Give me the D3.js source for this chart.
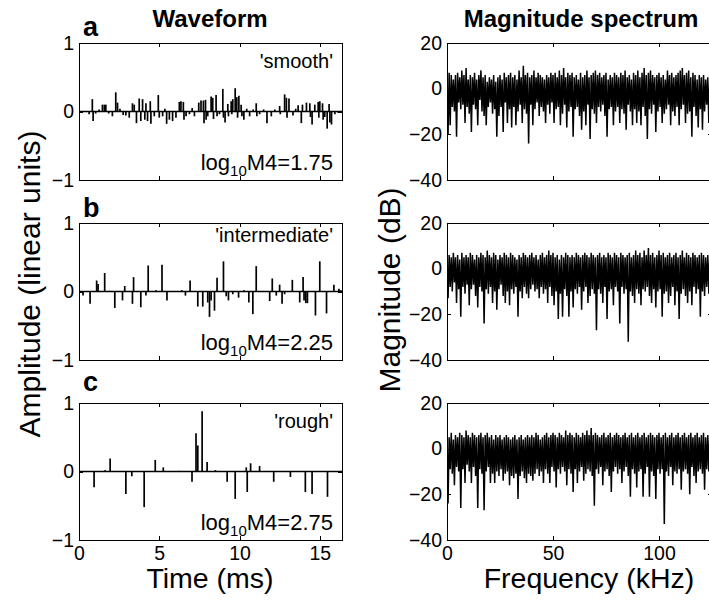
<!DOCTYPE html>
<html>
<head>
<meta charset="utf-8">
<script src="https://cdn.jsdelivr.net/npm/d3@7"></script>
<style>
  body { margin: 0; background: #fff; }
  svg { display: block; font-family: "Liberation Sans", Arial, Helvetica, sans-serif; }
</style>
</head>
<body>
<div id="chart"></div>
<script>
// ---- data ----
const duration = 16.384;   // ms
const nyquist = 125;       // kHz
const freqStep = 0.5;      // kHz between spectrum samples

const timeTicks = [0, 5, 10, 15];
const ampTicks = [-1, 0, 1];
const freqTicks = [0, 50, 100];
const dbTicks = [-40, -20, 0, 20];

const panelLetters = ['a', 'b', 'c'];
const roughnessNames = ["'smooth'", "'intermediate'", "'rough'"];
const m4Values = ['1.75', '2.25', '2.75'];

// waveform impulses: [time ms, amplitude]
const waveSmooth = [
  [0.63,-0.04],[0.83,0.18],[0.88,-0.14],[1.04,-0.03],[1.25,0.03],[1.46,0.10],[1.58,0.10],[1.67,0.10],
  [1.85,-0.03],[2.08,-0.07],[2.29,0.28],[2.40,0.13],[2.55,0.04],[2.75,-0.05],[2.92,-0.06],[3.13,-0.09],
  [3.33,0.12],[3.44,0.10],[3.58,-0.17],[3.75,0.19],[3.85,-0.14],[3.96,0.18],[4.10,-0.12],[4.17,0.12],
  [4.27,-0.14],[4.44,0.15],[4.48,-0.18],[4.69,-0.07],[4.94,0.24],[5.00,-0.09],[5.21,-0.07],[5.35,0.04],
  [5.46,-0.18],[5.63,-0.12],[5.83,-0.14],[6.04,-0.09],[6.25,0.14],[6.35,0.15],[6.50,0.14],[6.54,-0.12],
  [6.67,-0.07],[6.88,-0.04],[7.05,0.05],[7.19,-0.07],[7.46,0.13],[7.60,0.16],[7.75,0.16],[7.79,-0.17],
  [7.88,0.17],[7.92,-0.12],[8.02,-0.07],[8.23,0.22],[8.33,0.20],[8.38,-0.11],[8.54,0.24],[8.60,-0.07],
  [8.75,-0.04],[8.96,0.33],[9.00,-0.09],[9.10,-0.16],[9.27,0.11],[9.31,-0.07],[9.48,0.15],[9.52,-0.04],
  [9.58,0.18],[9.73,0.34],[9.83,0.21],[9.88,-0.09],[9.96,0.23],[10.10,0.10],[10.15,-0.07],[10.27,-0.12],
  [10.45,0.04],[10.63,-0.07],[10.85,0.03],[11.04,0.12],[11.08,-0.07],[11.25,-0.04],[11.50,0.03],[11.71,-0.17],
  [11.98,-0.07],[12.20,0.03],[12.50,0.08],[12.54,-0.04],[12.81,0.25],[12.92,0.20],[12.96,-0.09],[13.08,0.19],
  [13.33,-0.06],[13.50,0.04],[13.65,0.09],[13.85,-0.17],[13.92,0.10],[14.17,0.13],[14.38,0.12],[14.42,-0.08],
  [14.52,-0.19],[14.69,0.10],[14.90,0.14],[14.94,-0.09],[15.00,0.15],[15.17,0.12],[15.21,-0.12],[15.31,-0.08],
  [15.46,-0.25],[15.58,0.11],[15.63,-0.16],[15.73,-0.19],[15.94,-0.04],[16.15,-0.02]
];
const waveIntermediate = [
  [0.25,-0.06],[0.69,-0.18],[1.10,0.16],[1.19,0.11],[1.60,0.27],[1.92,0.01],[2.23,-0.24],[2.71,-0.13],
  [2.85,0.08],[3.33,-0.18],[3.40,0.21],[3.85,-0.23],[4.17,-0.06],[4.31,0.38],[4.79,0.02],[5.17,0.39],
  [5.48,-0.13],[6.40,0.02],[6.63,-0.06],[6.92,0.16],[7.40,-0.22],[7.71,-0.22],[8.02,-0.16],[8.13,-0.37],
  [8.23,-0.13],[8.44,-0.28],[8.60,0.20],[9.00,0.44],[9.17,-0.07],[9.31,-0.13],[9.58,-0.04],[9.94,-0.09],
  [10.27,0.02],[10.58,-0.16],[10.83,-0.33],[11.04,0.37],[11.88,-0.14],[12.04,0.19],[12.29,-0.06],[12.50,0.10],
  [12.65,-0.18],[12.81,-0.04],[13.29,0.17],[13.75,-0.16],[13.96,0.21],[14.02,-0.13],[14.13,-0.17],[14.23,-0.17],
  [14.73,-0.35],[15.00,0.44],[15.42,-0.32],[15.88,0.10],[16.19,0.04],[16.30,0.02]
];
const waveRough = [
  [0.94,-0.23],[1.63,0.02],[1.94,0.19],[2.92,-0.33],[3.29,-0.07],[4.06,-0.52],[4.75,0.17],[5.25,0.06],
  [6.25,0.01],[7.04,-0.15],[7.29,0.56],[7.40,0.38],[7.67,0.88],[7.98,0.14],[8.50,0.02],[9.23,-0.15],
  [9.73,-0.40],[10.42,0.06],[10.48,-0.30],[10.69,0.12],[11.25,0.08],[12.13,-0.15],[13.17,-0.08],[14.10,-0.30],
  [14.52,-0.33],[15.48,-0.37]
];

// magnitude spectra in dB, one value every freqStep kHz from 0
const specSmooth = [
  5,-20,7,-16,6,-8,4,-10,6,-21,7,-6,5,-9,8,-7,6,-15,9,-8,
  4,-11,6,-19,5,-7,7,-9,4,-16,6,-5,8,-10,5,-12,6,-16,3,-8,
  5,-6,4,-11,6,-9,3,-21,5,-12,6,-8,4,-19,7,-6,5,-15,6,-9,
  7,-17,5,-8,6,-16,4,-10,8,-7,5,-15,10,-9,6,-11,7,-24,5,-7,
  6,-16,8,-9,5,-6,7,-12,6,-8,5,-10,4,-15,6,-7,5,-11,7,-6,
  6,-15,7,-9,5,-8,8,-16,6,-11,9,-7,5,-17,7,-10,6,-8,7,-21,
  5,-9,6,-8,4,-12,7,-18,5,-10,6,-16,8,-7,5,-22,6,-9,7,-11,
  8,-15,6,-8,7,-10,5,-7,6,-12,7,-21,4,-9,6,-8,5,-16,7,-10,
  6,-8,5,-15,7,-9,6,-11,8,-18,5,-7,6,-10,4,-16,7,-9,6,-15,
  8,-10,5,-16,7,-8,9,-12,6,-22,7,-9,8,-11,6,-7,5,-19,6,-10,
  7,-8,5,-15,6,-11,4,-9,8,-7,6,-16,7,-10,5,-12,6,-8,7,-16,
  8,-9,9,-7,6,-15,7,-11,8,-10,5,-21,7,-8,6,-12,4,-17,6,-9,
  5,-18,6,-10,4,-7,5,-15,6,-9
];
const specIntermediate = [
  4,-13,6,-8,5,-10,7,-6,5,-15,6,-9,4,-21,7,-8,5,-11,6,-7,
  5,-16,7,-9,6,-7,4,-12,6,-17,5,-8,7,-10,6,-24,5,-9,8,-11,
  6,-8,5,-15,7,-10,6,-18,4,-9,6,-7,5,-12,7,-15,6,-10,5,-16,
  7,-9,6,-11,5,-8,4,-21,6,-10,5,-13,7,-8,6,-11,5,-13,6,-9,
  7,-7,5,-10,6,-9,4,-13,6,-8,7,-11,5,-9,6,-15,8,-8,6,-12,
  7,-16,5,-10,6,-22,4,-11,6,-21,5,-9,7,-12,6,-21,5,-10,6,-17,
  5,-9,7,-11,6,-8,5,-18,6,-10,7,-8,6,-15,5,-12,7,-9,6,-11,
  5,-27,6,-9,7,-11,5,-15,6,-8,5,-22,7,-10,6,-9,5,-16,7,-8,
  6,-10,5,-24,7,-8,6,-11,5,-9,6,-32,7,-10,5,-12,6,-15,8,-9,
  6,-11,7,-16,5,-9,8,-10,6,-8,9,-12,6,-15,7,-9,5,-17,6,-10,
  8,-9,6,-21,7,-11,5,-10,6,-15,7,-12,5,-8,6,-16,7,-10,5,-22,
  6,-11,8,-9,5,-12,7,-15,6,-10,5,-16,7,-8,6,-11,5,-9,6,-21,
  7,-10,6,-12,5,-8,6,-11,7,-9
];
const specRough = [
  6,-24,5,-9,7,-11,4,-16,6,-8,5,-10,7,-26,6,-9,5,-15,8,-7,
  6,-10,5,-15,7,-8,6,-12,5,-26,6,-9,7,-11,5,-27,6,-10,7,-8,
  5,-15,6,-11,4,-15,6,-10,5,-12,6,-9,4,-14,5,-11,6,-10,5,-16,
  4,-12,5,-13,6,-11,4,-22,5,-12,6,-10,4,-13,5,-15,6,-11,5,-12,
  6,-14,5,-11,7,-9,6,-12,4,-10,5,-15,6,-9,7,-11,5,-15,6,-8,
  7,-10,6,-17,5,-9,7,-11,6,-8,5,-10,8,-16,6,-9,7,-11,6,-19,
  5,-9,7,-15,6,-10,5,-8,7,-14,6,-11,8,-9,6,-10,9,-12,6,-25,
  7,-9,6,-11,5,-8,6,-16,7,-10,5,-9,6,-12,7,-19,5,-10,6,-8,
  7,-11,6,-9,5,-15,6,-10,7,-8,5,-12,6,-21,7,-9,5,-11,6,-17,
  7,-10,5,-9,6,-21,7,-11,5,-8,6,-21,7,-10,6,-12,5,-22,6,-9,
  7,-11,5,-9,6,-33,7,-10,5,-12,6,-8,7,-16,5,-10,6,-11,7,-9,
  5,-18,6,-10,7,-9,5,-11,6,-20,7,-8,5,-12,6,-15,7,-10,5,-9,
  6,-11,7,-18,5,-9,6,-10,7,-12
];

const waves = [waveSmooth, waveIntermediate, waveRough];
const spectra = [specSmooth, specIntermediate, specRough];

// ---- layout ----
const W = 709, H = 602;
const leftX = [79, 342], rightX = [447, 712];
const rowTop = [43, 223, 403], rowH = 137;
const nameBaseline = [68, 242, 428];
const letterBaseline = [36, 217, 391];
const tickLen = 4;

const svg = d3.select('#chart').append('svg')
    .attr('width', W)
    .attr('height', H);

const defs = svg.append('defs');

function styleAxis(g, fontSize) {
    g.selectAll('.domain').attr('stroke', '#000').attr('stroke-width', 1).attr('shape-rendering', 'crispEdges');
    g.selectAll('.tick line').attr('stroke', '#000').attr('stroke-width', 1).attr('shape-rendering', 'crispEdges');
    g.selectAll('.tick text').attr('fill', '#000').style('font-size', fontSize + 'px')
        .style('font-family', '"Liberation Sans", Arial, Helvetica, sans-serif');
}

// boxed axes with inward ticks, MATLAB style
function drawFrame(g, x, y, xTicks, yTicks, showXLabels) {
    const [y0, y1] = y.range();   // bottom, top
    const [x0, x1] = x.range();

    g.append('g').attr('transform', `translate(0,${y0})`)
        .call(d3.axisBottom(x).tickValues(xTicks).tickSize(-tickLen).tickSizeOuter(0).tickPadding(6)
            .tickFormat(showXLabels ? d3.format('d') : () => ''))
        .call(a => styleAxis(a, 19.5));
    g.append('g').attr('transform', `translate(0,${y1})`)
        .call(d3.axisTop(x).tickValues(xTicks).tickSize(-tickLen).tickSizeOuter(0).tickFormat(() => ''))
        .call(a => styleAxis(a, 19.5));
    g.append('g').attr('transform', `translate(${x0},0)`)
        .call(d3.axisLeft(y).tickValues(yTicks).tickSize(-tickLen).tickSizeOuter(0).tickPadding(5)
            .tickFormat(d3.format('d')))
        .call(a => styleAxis(a, 19.5));
    g.append('g').attr('transform', `translate(${x1},0)`)
        .call(d3.axisRight(y).tickValues(yTicks).tickSize(-tickLen).tickSizeOuter(0).tickFormat(() => ''))
        .call(a => styleAxis(a, 19.5));
}

rowTop.forEach((top, r) => {
    const bottom = top + rowH;
    const last = r === rowTop.length - 1;

    // ---- waveform ----
    const xt = d3.scaleLinear().domain([0, duration]).range(leftX);
    const ya = d3.scaleLinear().domain([-1, 1]).range([bottom, top]);
    const gw = svg.append('g');

    gw.append('line')
        .attr('x1', xt(0)).attr('x2', xt(duration))
        .attr('y1', ya(0)).attr('y2', ya(0))
        .attr('stroke', '#000').attr('stroke-width', 1.7);

    gw.selectAll('line.spike')
        .data(waves[r])
        .enter().append('line')
        .attr('class', 'spike')
        .attr('x1', d => xt(d[0])).attr('x2', d => xt(d[0]))
        .attr('y1', ya(0)).attr('y2', d => ya(d[1]))
        .attr('stroke', '#000').attr('stroke-width', 1.7);

    drawFrame(gw, xt, ya, timeTicks, ampTicks, last);

    gw.append('text')
        .attr('x', 333).attr('y', nameBaseline[r])
        .attr('text-anchor', 'end')
        .style('font-size', '20px')
        .text(roughnessNames[r]);

    const lt = gw.append('text')
        .attr('x', 333).attr('y', bottom - 10)
        .attr('text-anchor', 'end')
        .style('font-size', '22px');
    lt.append('tspan').text('log');
    lt.append('tspan').attr('dy', 6).style('font-size', '15px').text('10');
    lt.append('tspan').attr('dy', -6).text('M4=' + m4Values[r]);

    gw.append('text')
        .attr('x', 83).attr('y', letterBaseline[r])
        .style('font-size', '27px').style('font-weight', 'bold')
        .text(panelLetters[r]);

    // ---- spectrum ----
    const xf = d3.scaleLinear().domain([0, nyquist]).range(rightX);
    const yd = d3.scaleLinear().domain([-40, 20]).range([bottom, top]);
    const gs = svg.append('g');

    defs.append('clipPath').attr('id', 'clip' + r)
        .append('rect')
        .attr('x', rightX[0]).attr('y', top)
        .attr('width', rightX[1] - rightX[0]).attr('height', rowH);

    const line = d3.line()
        .x((d, i) => xf(i * freqStep))
        .y(d => yd(d));

    gs.append('path')
        .datum(spectra[r])
        .attr('clip-path', `url(#clip${r})`)
        .attr('d', line)
        .attr('fill', 'none')
        .attr('stroke', '#000')
        .attr('stroke-width', 1.5)
        .attr('stroke-linejoin', 'bevel');

    drawFrame(gs, xf, yd, freqTicks, dbTicks, last);
});

// titles and axis labels
svg.append('text').attr('x', 210).attr('y', 27).attr('text-anchor', 'middle')
    .style('font-size', '24px').style('font-weight', 'bold').text('Waveform');
svg.append('text').attr('x', 581).attr('y', 27).attr('text-anchor', 'middle')
    .style('font-size', '24px').style('font-weight', 'bold').text('Magnitude spectrum');

svg.append('text').attr('x', 210).attr('y', 588).attr('text-anchor', 'middle')
    .style('font-size', '28.5px').text('Time (ms)');
svg.append('text').attr('x', 589).attr('y', 588).attr('text-anchor', 'middle')
    .style('font-size', '28.5px').text('Frequency (kHz)');

svg.append('text').attr('transform', 'translate(40,284) rotate(-90)').attr('text-anchor', 'middle')
    .style('font-size', '30px').text('Amplitude (linear units)');
svg.append('text').attr('transform', 'translate(400,290) rotate(-90)').attr('text-anchor', 'middle')
    .style('font-size', '30px').text('Magnitude (dB)');
</script>
</body>
</html>
